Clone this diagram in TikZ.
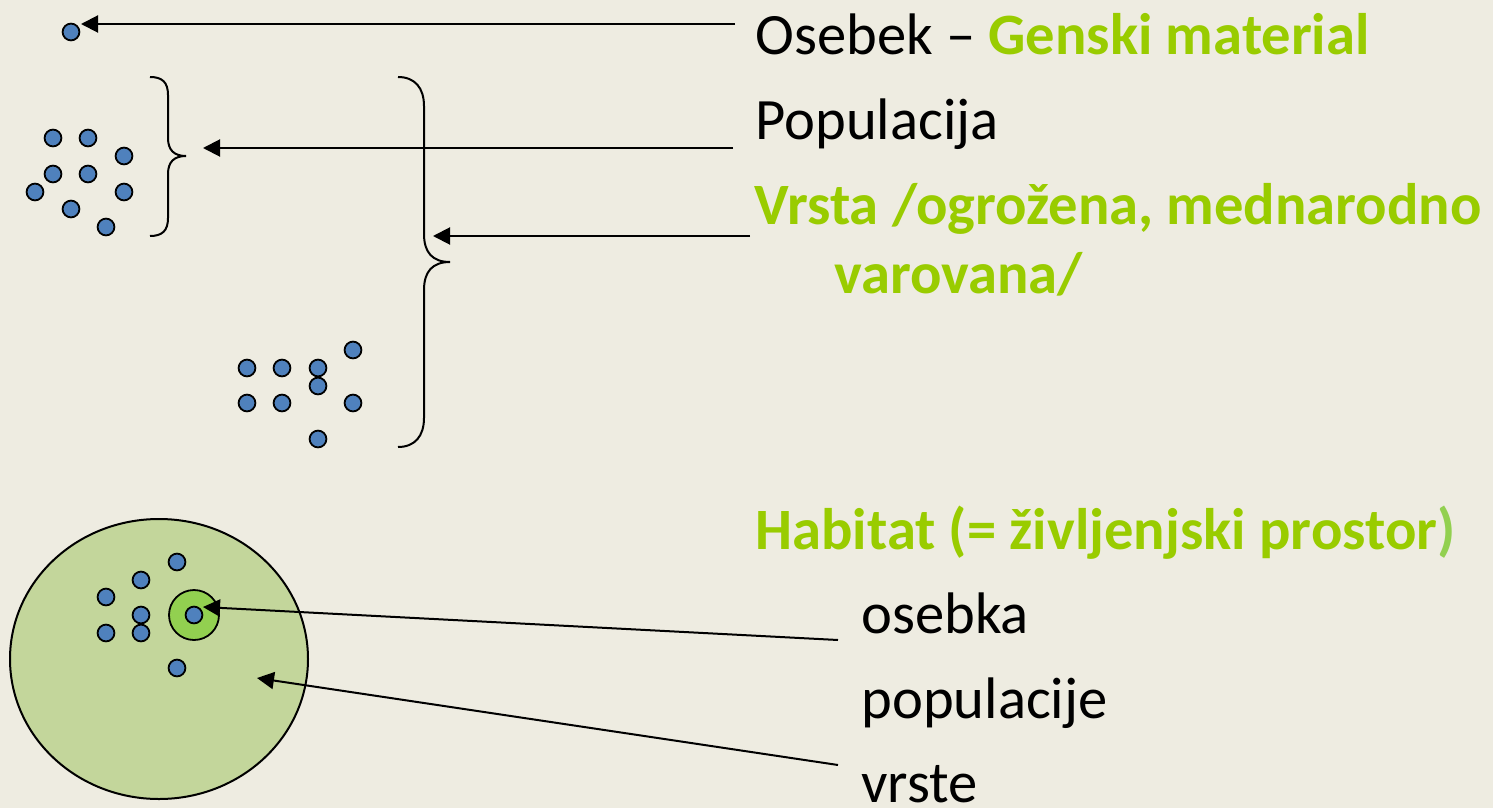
\documentclass[tikz,border=0pt]{standalone}
\usepackage{fontspec}
\setmainfont{Carlito}
\usepackage{xcolor}
\usepackage{tikz}
\usetikzlibrary{arrows.meta,shapes.geometric}
\definecolor{bgtan}{HTML}{EEECE1}
\definecolor{dotblue}{HTML}{4F81BD}
\definecolor{textgreen}{HTML}{99CC00}
\definecolor{habgreen}{HTML}{C3D69B}
\definecolor{ringgreen}{HTML}{92D050}

\begin{document}
\begin{tikzpicture}[x=0.5pt,y=-0.5pt,
  dot node/.style={circle,draw,fill=dotblue,line width=0.9pt,inner sep=0pt,minimum size=8.4pt},
  text node/.style={anchor=base west,inner sep=0pt,font=\fontsize{29.3}{35}\selectfont},
  green text/.style={text node,text=textgreen,font=\fontsize{29.3}{35}\selectfont\bfseries},
  pointer/.style={line width=1pt,-{Triangle[length=8.5pt,width=8.5pt]}},
  brace/.style={line width=1pt}]
        \fill[bgtan] (0,0) rectangle (1493,808);
        \useasboundingbox (0,0) rectangle (1493,808);
        % osebek
        \node[dot node] (o) at (71,32) {};
        % populacija
        \node[dot node] (p1) at (53,138) {};
        \node[dot node] (p2) at (88,138) {};
        \node[dot node] (p3) at (124,156) {};
        \node[dot node] (p4) at (53,174) {};
        \node[dot node] (p5) at (88,174) {};
        \node[dot node] (p6) at (35,192) {};
        \node[dot node] (p7) at (124,192) {};
        \node[dot node] (p8) at (71,209) {};
        \node[dot node] (p9) at (106,227) {};
        % druga populacija
        \node[dot node] (q1) at (247,368) {};
        \node[dot node] (q2) at (282,368) {};
        \node[dot node] (q3) at (318,368) {};
        \node[dot node] (q4) at (353,350) {};
        \node[dot node] (q5) at (318,386) {};
        \node[dot node] (q6) at (247,403) {};
        \node[dot node] (q7) at (282,403) {};
        \node[dot node] (q8) at (353,403) {};
        \node[dot node] (q9) at (318,439) {};
        % oklepaja
        \draw[brace] (150,77) .. controls (162,77) and (168,82) .. (168,95) -- (168,138)
          .. controls (168,150) and (174,156) .. (186,156)
          .. controls (174,156) and (168,162) .. (168,174) -- (168,218)
          .. controls (168,231) and (162,236) .. (150,236);
        \draw[brace] (398,77) .. controls (415,77) and (424,88) .. (424,106) -- (424,234)
          .. controls (424,252) and (432,262) .. (450,262)
          .. controls (432,262) and (424,272) .. (424,290) -- (424,418)
          .. controls (424,436) and (415,447) .. (398,447);
        % habitat
        \node[ellipse,draw,fill=habgreen,line width=1pt,inner sep=0pt,
          minimum width=149pt,minimum height=140pt] (hab) at (159,659) {};
        \node[dot node] (h1) at (177,562) {};
        \node[dot node] (h2) at (141,580) {};
        \node[dot node] (h3) at (106,597) {};
        \node[dot node] (h4) at (141,615) {};
        \node[dot node] (h5) at (106,633) {};
        \node[dot node] (h6) at (141,633) {};
        \node[dot node] (h7) at (177,668) {};
        \node[circle,draw,fill=ringgreen,line width=0.9pt,inner sep=0pt,minimum size=25pt] (ring) at (194,615) {};
        \node[dot node] (hi) at (194,615) {};
        % besedila
        \node[text node] (t1) at (755,55) {Osebek -- \textcolor{textgreen}{\bfseries Genski material}};
        \node[text node] (t2) at (755,140) {Populacija};
        \node[green text] (t3) at (754,224) {Vrsta /ogrožena, mednarodno};
        \node[green text] (t4) at (834,293) {varovana/};
        \node[green text] (t5) at (755,549) {Habitat (= življenjski prostor\textcolor{ringgreen}{)}};
        \node[text node] (t6) at (861,633) {osebka};
        \node[text node] (t7) at (861,718) {populacije};
        \node[text node] (t8) at (861,802) {vrste};
        % puscice
        \coordinate (a1) at (735,24);  \coordinate (b1) at (81,24);
        \coordinate (a2) at (733,148); \coordinate (b2) at (203,148);
        \coordinate (a3) at (750,236); \coordinate (b3) at (433,236);
        \coordinate (a4) at (838,640); \coordinate (b4) at (203,607);
        \coordinate (a5) at (838,765); \coordinate (b5) at (257,678);
        \path[pointer]
          (a1) edge (b1)
          (a2) edge (b2)
          (a3) edge (b3)
          (a4) edge (b4)
          (a5) edge (b5);
      \end{tikzpicture}
\end{document}
